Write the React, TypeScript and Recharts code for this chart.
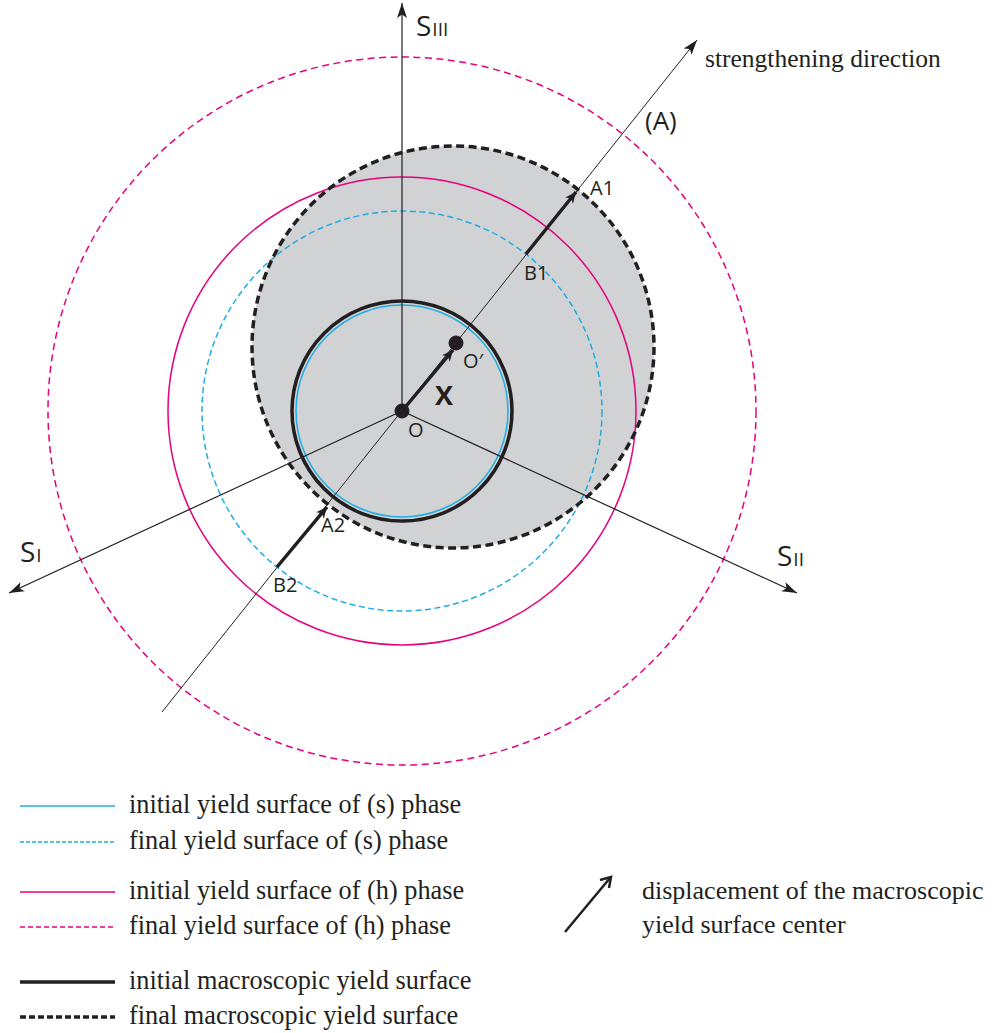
import React from "react";
import { ComposedChart, XAxis, YAxis, Scatter, Legend } from "recharts";

const W = 996;
const H = 1033;
// data units: origin at O, y up, one unit = one pixel
const X_DOMAIN: [number, number] = [-402, 594];
const Y_DOMAIN: [number, number] = [-622, 411];
const PX = W / (X_DOMAIN[1] - X_DOMAIN[0]);

const INK = "#231f20";
const BLUE = "#1fade4";
const PINK = "#e6007e";
const GREY = "#d1d2d4";
const SANS = "'Open Sans', 'Noto Sans', sans-serif";
const SERIF = "'Liberation Serif', 'Times New Roman', serif";

// yield surfaces: centre + radius
const surfaceFinalH = [{ x: 0, y: 0, r: 354 }];
const surfaceInitialH = [{ x: 0, y: 0, r: 234 }];
const surfaceFinalS = [{ x: 0, y: 0, r: 200 }];
const surfaceInitialS = [{ x: 0, y: 0, r: 106 }];
const surfaceInitialMacro = [{ x: 0, y: 0, r: 110 }];
const surfaceFinalMacro = [{ x: 51, y: 64, r: 201 }];

// centres O and O'
const centres = [{ x: 0, y: 0 }, { x: 54, y: 68 }];

// principal stress axes (tips), from O
const axisTips = [
  { name: "SIII", x: 0, y: 408 },
  { name: "SI", x: -393, y: -182 },
  { name: "SII", x: 395, y: -182 },
];
const strengthening = [{ x: -240, y: -301 }, { x: 295, y: 371 }];

// displacement arrows: O -> O', B1 -> A1, B2 -> A2
const shifts = [
  [{ x: 0, y: 0 }, { x: 51, y: 61 }],
  [{ x: 124, y: 157 }, { x: 174, y: 219 }],
  [{ x: -125, y: -156 }, { x: -75, y: -96 }],
];

const labels = [
  { x: 14, y: 375, text: "S", sub: "III", kind: "axis" },
  { x: -382, y: -151, text: "S", sub: "I", kind: "axis" },
  { x: 375, y: -155, text: "S", sub: "II", kind: "axis" },
  { x: 6, y: -26, text: "O", sub: "", kind: "point" },
  { x: 61, y: 43, text: "O′", sub: "", kind: "point" },
  { x: 33, y: 6, text: "X", sub: "", kind: "bold" },
  { x: 188, y: 216, text: "A", sub: "1", kind: "point" },
  { x: 122, y: 131, text: "B", sub: "1", kind: "point" },
  { x: -81, y: -121, text: "A", sub: "2", kind: "point" },
  { x: -129, y: -181, text: "B", sub: "2", kind: "point" },
  { x: 243, y: 281, text: "(A)", sub: "", kind: "note" },
  { x: 303, y: 344, text: "strengthening direction", sub: "", kind: "serif" },
];

const legendRows = [
  { label: "initial yield surface of (s) phase", color: BLUE, width: 1.5, dash: undefined },
  { label: "final yield surface of (s) phase", color: BLUE, width: 1.5, dash: "4 2" },
  { label: "initial yield surface of (h) phase", color: PINK, width: 1.5, dash: undefined },
  { label: "final yield surface of (h) phase", color: PINK, width: 1.5, dash: "5 3" },
  { label: "initial macroscopic yield surface", color: INK, width: 3.5, dash: undefined },
  { label: "final macroscopic yield surface", color: INK, width: 3.5, dash: "6 3" },
];
const ROW_Y = [806, 842, 892, 927, 982, 1017];

const labelStyle: Record<string, any> = {
  axis: { size: 28, subSize: 19, weight: 400, family: SANS },
  point: { size: 20, subSize: 20, weight: 400, family: SANS },
  bold: { size: 27, subSize: 27, weight: 700, family: SANS },
  note: { size: 26, subSize: 26, weight: 400, family: SANS },
  serif: { size: 25.5, subSize: 25.5, weight: 400, family: SERIF },
};

const ring = (stroke: string, width: number, dash?: string, fill = "none") => (p: any) => (
  <circle cx={p.cx} cy={p.cy} r={p.payload.r * PX} fill={fill} stroke={stroke} strokeWidth={width} strokeDasharray={dash} />
);

const head = (len: number, half: number, notch: number) => (p: any) => {
  const a = Math.atan2(-p.payload.dy, p.payload.dx);
  const ux = Math.cos(a), uy = Math.sin(a);
  const bx = p.cx - ux * len, by = p.cy - uy * len;
  const nx = p.cx - ux * (len - notch), ny = p.cy - uy * (len - notch);
  const d = `M${p.cx},${p.cy} L${bx - uy * half},${by + ux * half} L${nx},${ny} L${bx + uy * half},${by - ux * half} Z`;
  return <path d={d} fill={INK} />;
};

const noMark = () => <g />;

const dot = (p: any) => <circle cx={p.cx} cy={p.cy} r={7} fill={INK} stroke="#1a1a2e" strokeWidth={1} />;

const label = (p: any) => {
  const s = labelStyle[p.payload.kind];
  return (
    <text x={p.cx} y={p.cy} fill={INK} fontFamily={s.family} fontSize={s.size} fontWeight={s.weight}>
      {p.payload.text}
      {p.payload.sub ? <tspan fontSize={s.subSize} dx={p.payload.kind === "axis" ? 1 : 0}>{p.payload.sub}</tspan> : null}
    </text>
  );
};

const axisHeads = [
  ...axisTips.map(t => ({ x: t.x, y: t.y, dx: t.x, dy: t.y })),
  { x: strengthening[1].x, y: strengthening[1].y, dx: strengthening[1].x - strengthening[0].x, dy: strengthening[1].y - strengthening[0].y },
];
const shiftHeads = shifts.map(([a, b]) => ({ x: b.x, y: b.y, dx: b.x - a.x, dy: b.y - a.y }));

function LegendArt() {
  return (
    <svg width={W} height={H} style={{ position: "absolute", left: 0, top: 0 }}>
      {legendRows.map((r, i) => (
        <g key={r.label}>
          <line x1={20} x2={115} y1={ROW_Y[i]} y2={ROW_Y[i]} stroke={r.color} strokeWidth={r.width} strokeDasharray={r.dash} />
          <text x={129} y={ROW_Y[i] + 7} fontFamily={SERIF} fontSize={26.3} fill={INK}>{r.label}</text>
        </g>
      ))}
      <line x1={565} y1={932} x2={610} y2={878} stroke={INK} strokeWidth={2.5} />
      <path d="M600,880 L611,877 L609,888" fill="none" stroke={INK} strokeWidth={2.5} />
      <text x={642} y={899} fontFamily={SERIF} fontSize={26} fill={INK}>displacement of the macroscopic</text>
      <text x={642} y={933} fontFamily={SERIF} fontSize={26} fill={INK}>yield surface center</text>
    </svg>
  );
}

export default function App() {
  return (
    <div style={{ position: "absolute", left: 0, top: 0, background: "#fff" }}>
      <ComposedChart width={W} height={H} margin={{ top: 0, right: 0, bottom: 0, left: 0 }}>
        <XAxis type="number" dataKey="x" domain={X_DOMAIN} hide allowDataOverflow />
        <YAxis type="number" dataKey="y" domain={Y_DOMAIN} hide allowDataOverflow />
        <Scatter data={surfaceFinalMacro} shape={ring("none", 0, undefined, GREY)} isAnimationActive={false} />
        <Scatter data={surfaceFinalH} shape={ring(PINK, 1.5, "7 4.5")} isAnimationActive={false} />
        <Scatter data={surfaceInitialH} shape={ring(PINK, 1.5)} isAnimationActive={false} />
        <Scatter data={surfaceFinalS} shape={ring(BLUE, 1.5, "6 3.5")} isAnimationActive={false} />
        <Scatter data={surfaceInitialS} shape={ring(BLUE, 1.5)} isAnimationActive={false} />
        {axisTips.map(t => (
          <Scatter key={t.name} data={[{ x: 0, y: 0 }, t]} line={{ stroke: INK, strokeWidth: 1.2 }} shape={noMark} isAnimationActive={false} />
        ))}
        <Scatter data={strengthening} line={{ stroke: INK, strokeWidth: 1 }} shape={noMark} isAnimationActive={false} />
        <Scatter data={surfaceInitialMacro} shape={ring(INK, 3.5)} isAnimationActive={false} />
        <Scatter data={surfaceFinalMacro} shape={ring(INK, 3.5, "8 4.5")} isAnimationActive={false} />
        {shifts.map((s, i) => (
          <Scatter key={i} data={s} line={{ stroke: INK, strokeWidth: 3.5 }} shape={noMark} isAnimationActive={false} />
        ))}
        <Scatter data={axisHeads} shape={head(15, 5, 3.5)} isAnimationActive={false} />
        <Scatter data={shiftHeads} shape={head(11, 5, 3)} isAnimationActive={false} />
        <Scatter data={centres} shape={dot} isAnimationActive={false} />
        <Scatter data={labels} shape={label} isAnimationActive={false} />
        <Legend
          layout="horizontal"
          verticalAlign="middle"
          align="center"
          wrapperStyle={{ position: "absolute", left: 0, top: 0, width: W, height: H, pointerEvents: "none" }}
          content={() => <LegendArt />}
        />
      </ComposedChart>
    </div>
  );
}
